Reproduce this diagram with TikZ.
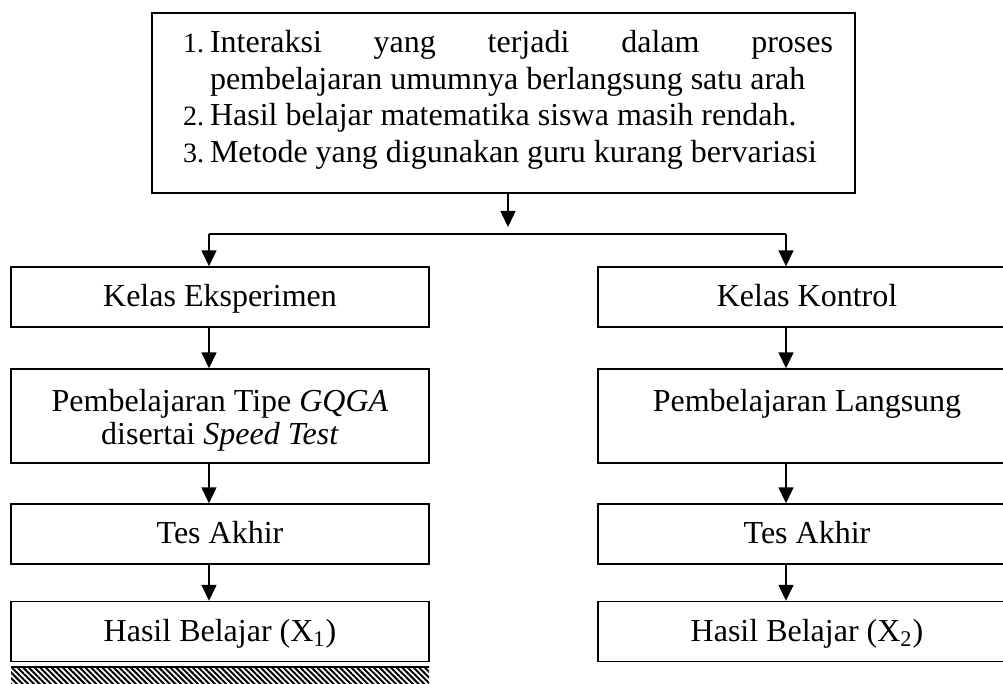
\documentclass[tikz,border=0pt]{standalone}
\usepackage{fontspec}
\setmainfont{Liberation Serif}
\usetikzlibrary{arrows.meta,patterns.meta}

\newcommand{\nomor}[1]{\hspace*{4.5pt}\makebox[13.5pt][l]{\fontsize{14}{16}\selectfont #1}}

\begin{document}
\begin{tikzpicture}[x=0.5pt, y=-0.5pt,
    font=\fontsize{16}{17}\selectfont,
    box/.style={draw, line width=0.7pt, minimum width=209pt, minimum height=30pt,
      inner sep=0pt, align=center, text height=11pt, text depth=1pt},
    box2/.style={box, minimum height=47pt, text height=, text depth=0pt},
    panah/.style={-{Triangle[length=8pt,width=7.5pt]}, line width=0.75pt}]

      \clip (0, 0) rectangle (1003, 684);

      \node[box, minimum width=351.5pt, minimum height=90pt, text width=329.5pt,
        text height=, text depth=, align=flush left,
        font=\fontsize{16}{18.3}\selectfont] (masalah) at (503.5, 103) {%
        \nomor{1.}\hbox to 311.5pt{Interaksi\hfill yang\hfill terjadi\hfill dalam\hfill proses}\\
        \hspace*{18pt}pembelajaran umumnya berlangsung satu arah\\
        \nomor{2.}Hasil belajar matematika siswa masih rendah.\\
        \nomor{3.}Metode yang digunakan guru kurang bervariasi\vspace*{3pt}};

      \node[box] (kelasE) at (220, 297) {Kelas Eksperimen};
      \node[box2] (ajarE) at (220, 416) {\rule{0pt}{12pt}Pembelajaran Tipe \textit{GQGA}\\disertai \textit{Speed Test}};
      \node[box] (tesE) at (220, 534) {Tes Akhir};
      \node[box] (hasilE) at (220, 631.5) {Hasil Belajar (X\textsubscript{1})};

      \node[box] (kelasK) at (807, 297) {Kelas Kontrol};
      \node[box2] (ajarK) at (807, 416) {\rule{0pt}{12pt}Pembelajaran Langsung\\\mbox{}};
      \node[box] (tesK) at (807, 534) {Tes Akhir};
      \node[box] (hasilK) at (807, 631.5) {Hasil Belajar (X\textsubscript{2})};

      \coordinate (tengah) at (508, 227);
      \coordinate (cabangE) at (209, 234);
      \coordinate (cabangK) at (786, 234);

      \draw [panah] (masalah.south -| tengah) -- (tengah);
      \draw [line width=0.75pt] (cabangE) -- (cabangK);
      \draw [panah] (cabangE) -- (kelasE.north -| cabangE);
      \draw [panah] (cabangK) -- (kelasK.north -| cabangK);

      \draw [panah] (kelasE.south -| cabangE) -- (ajarE.north -| cabangE);
      \draw [panah] (ajarE.south -| cabangE) -- (tesE.north -| cabangE);
      \draw [panah] (tesE.south -| cabangE) -- (hasilE.north -| cabangE);

      \draw [panah] (kelasK.south -| cabangK) -- (ajarK.north -| cabangK);
      \draw [panah] (ajarK.south -| cabangK) -- (tesK.north -| cabangK);
      \draw [panah] (tesK.south -| cabangK) -- (hasilK.north -| cabangK);

      \fill [pattern={Lines[angle=-45, distance=2pt, line width=1pt]}] (11, 667) rectangle (429, 690);
      \draw [line width=0.7pt] (11, 667) -- (429, 667);

   \end{tikzpicture}
\end{document}
